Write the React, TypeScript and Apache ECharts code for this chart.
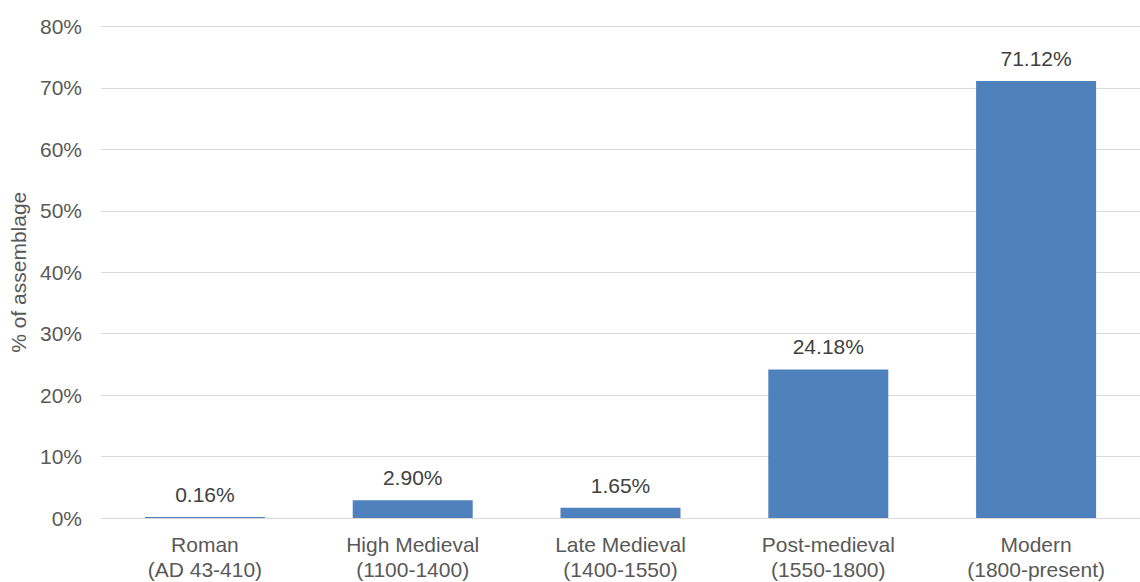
import React, { useEffect, useRef } from "react";
import * as echarts from "echarts";

const categories = [
  "Roman\n(AD 43-410)",
  "High Medieval\n(1100-1400)",
  "Late Medieval\n(1400-1550)",
  "Post-medieval\n(1550-1800)",
  "Modern\n(1800-present)",
];
const values = [0.16, 2.9, 1.65, 24.18, 71.12];
const yTicks = { min: 0, max: 80, interval: 10 };
const yTitle = "% of assemblage";

const FONT = "'Liberation Sans', Arial, Helvetica, sans-serif";

export default function App() {
  const ref = useRef<HTMLDivElement>(null);
  useEffect(() => {
    if (!ref.current) return;
    const chart = echarts.init(ref.current, undefined, { renderer: "svg" });
    chart.setOption({
      animation: false,
      backgroundColor: "#ffffff",
      textStyle: { fontFamily: FONT },
      grid: { left: 101, top: 26.5, width: 1053, height: 497, containLabel: false },
      xAxis: {
        type: "category",
        data: categories,
        axisLine: { show: true, lineStyle: { color: "#D9D9D9", width: 1 } },
        axisTick: { show: false },
        axisLabel: {
          color: "#595959",
          fontSize: 21,
          fontFamily: FONT,
          lineHeight: 25,
          margin: 14,
          interval: 0,
        },
      },
      yAxis: {
        type: "value",
        min: yTicks.min,
        max: yTicks.max,
        interval: yTicks.interval,
        name: yTitle,
        nameLocation: "middle",
        nameGap: 68,
        nameTextStyle: { color: "#595959", fontSize: 21, fontFamily: FONT },
        axisLine: { show: false },
        axisTick: { show: false },
        splitLine: { lineStyle: { color: "#D9D9D9", width: 1 } },
        axisLabel: {
          color: "#595959",
          fontSize: 21,
          fontFamily: FONT,
          margin: 19,
          formatter: "{value}%",
        },
      },
      series: [
        {
          type: "bar",
          data: values,
          barWidth: 120,
          itemStyle: { color: "#4F81BD" },
          label: {
            show: true,
            position: "top",
            distance: 12,
            color: "#404040",
            fontSize: 21,
            fontFamily: FONT,
            formatter: (p: any) => Number(p.value).toFixed(2) + "%",
          },
        },
      ],
    });
    return () => chart.dispose();
  }, []);
  return (
    <div style={{ position: "absolute", left: 0, top: 0, width: 1140, height: 582, overflow: "hidden" }}>
      <div ref={ref} style={{ width: 1140, height: 582 }} />
    </div>
  );
}
